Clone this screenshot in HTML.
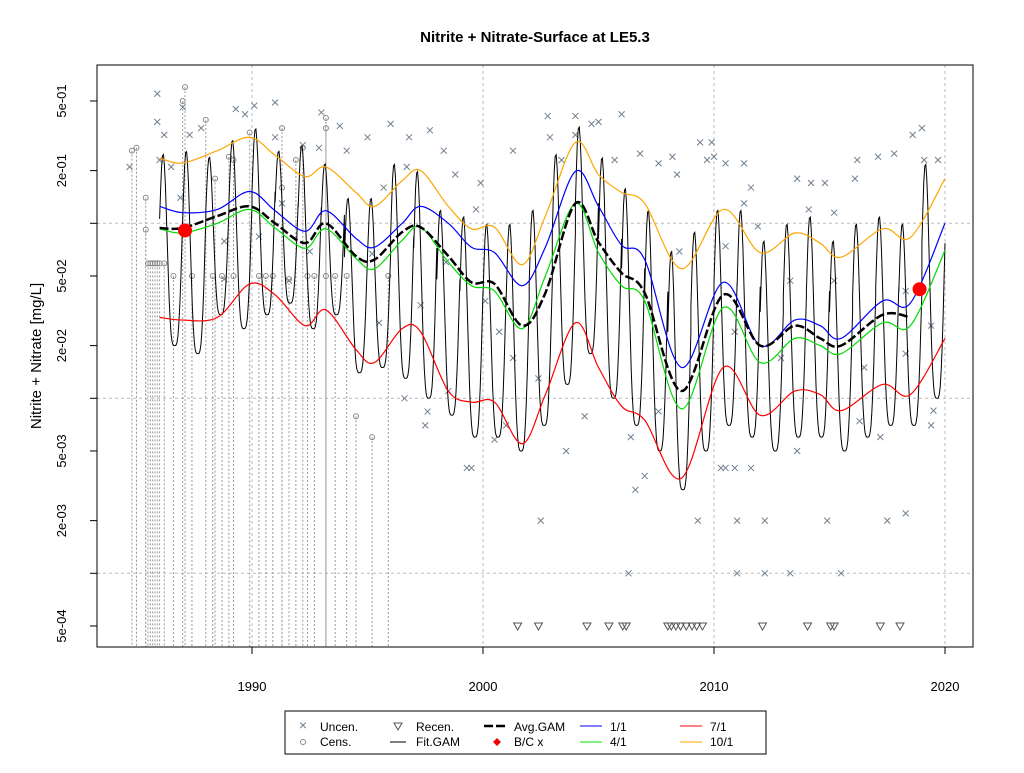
<!DOCTYPE html>
<html><head><meta charset="utf-8"><style>
body{margin:0;background:#fff}
svg text{font-family:"Liberation Sans",Arial,sans-serif}
</style></head><body>
<svg id="chart" xmlns="http://www.w3.org/2000/svg" width="1024" height="768" viewBox="0 0 1024 768">
<rect width="1024" height="768" fill="#fff"/>
<text x="535" y="42" text-anchor="middle" font-size="15" font-weight="bold">Nitrite + Nitrate-Surface at LE5.3</text>
<text transform="translate(41,356) rotate(-90)" text-anchor="middle" font-size="15">Nitrite + Nitrate [mg/L]</text>
<g id="grid"></g>
<g id="cens"></g>
<g id="unc"></g>
<g id="recen"></g>
<g id="lines"></g>
<g id="axes"></g>
<g>
<rect x="285" y="711" width="481" height="43" fill="#fff" stroke="#000"/>
<text x="303" y="730" font-size="14" fill="#708090" text-anchor="middle">×</text><text x="320" y="731" font-size="12">Uncen.</text>
<circle cx="303" cy="742" r="2.5" fill="none" stroke="#888"/><text x="320" y="746" font-size="12">Cens.</text>
<polygon points="394,723 402,723 398,730" fill="none" stroke="#555"/><text x="416" y="731" font-size="12">Recen.</text>
<line x1="390" y1="742" x2="406" y2="742" stroke="#000"/><text x="416" y="746" font-size="12">Fit.GAM</text>
<line x1="484" y1="726" x2="506" y2="726" stroke="#000" stroke-width="2.5" stroke-dasharray="9,3"/><text x="514" y="731" font-size="12">Avg.GAM</text>
<polygon points="497,738 501,742 497,746 493,742" fill="#e00"/><text x="514" y="746" font-size="12">B/C x</text>
<line x1="580" y1="726" x2="602" y2="726" stroke="#00f"/><text x="610" y="731" font-size="12">1/1</text>
<line x1="580" y1="742" x2="602" y2="742" stroke="#0d0"/><text x="610" y="746" font-size="12">4/1</text>
<line x1="680" y1="726" x2="702" y2="726" stroke="#f00"/><text x="710" y="731" font-size="12">7/1</text>
<line x1="680" y1="742" x2="702" y2="742" stroke="#ffa500"/><text x="710" y="746" font-size="12">10/1</text>
</g>
</svg>
<script>
const knotYears=[1986,1987,1988.5,1989.9,1991,1992.3,1993.2,1994.5,1995.3,1996.5,1997.3,1998.5,1999.5,2000.5,2001.7,2002.7,2004,2005,2006,2007,2008.6,2010.4,2012,2013.5,2014.6,2015.5,2017.3,2018.5,2020];
const s10=[0.236,0.221,0.26,0.31,0.245,0.185,0.21,0.15,0.125,0.175,0.2,0.125,0.093,0.095,0.058,0.11,0.29,0.19,0.15,0.13,0.055,0.12,0.068,0.088,0.077,0.064,0.093,0.083,0.18];
const s1=[0.125,0.115,0.12,0.152,0.118,0.09,0.118,0.082,0.073,0.1,0.125,0.1,0.073,0.068,0.044,0.073,0.198,0.125,0.075,0.062,0.015,0.046,0.02,0.028,0.026,0.022,0.036,0.035,0.1];
const s4=[0.093,0.088,0.1,0.12,0.094,0.072,0.093,0.063,0.055,0.08,0.095,0.06,0.044,0.041,0.025,0.05,0.13,0.068,0.044,0.036,0.0087,0.033,0.016,0.022,0.02,0.018,0.027,0.026,0.07];
const s7=[0.029,0.028,0.029,0.045,0.039,0.026,0.032,0.019,0.016,0.025,0.024,0.011,0.0095,0.0095,0.0055,0.0105,0.027,0.015,0.009,0.0075,0.0035,0.015,0.008,0.011,0.0105,0.0085,0.012,0.0105,0.022];
const avgYears=knotYears.slice(0,28);
const avg=[0.094,0.094,0.11,0.125,0.1,0.077,0.1,0.065,0.062,0.089,0.095,0.065,0.046,0.045,0.026,0.04,0.13,0.078,0.052,0.04,0.011,0.039,0.02,0.026,0.022,0.02,0.03,0.029];
const bcYears=[1987.1,2018.9];
const bcVals=[0.091,0.042];
const fitYears=[1986,1987,1988,1989,1990,1991,1992,1993,1994,1995,1996,1997,1998,1999,2000,2001,2002,2003,2004,2005,2006,2007,2008,2009,2010,2011,2012,2013,2014,2015,2016,2017,2018,2019];
const fitPeak=[0.25,0.26,0.24,0.3,0.35,0.26,0.28,0.22,0.14,0.14,0.22,0.2,0.12,0.11,0.1,0.1,0.12,0.25,0.36,0.24,0.16,0.12,0.07,0.09,0.12,0.12,0.08,0.1,0.11,0.08,0.1,0.11,0.1,0.22];
const fitTrough=[0.02,0.018,0.03,0.025,0.03,0.035,0.025,0.03,0.014,0.015,0.013,0.01,0.008,0.006,0.006,0.005,0.007,0.012,0.018,0.01,0.007,0.005,0.003,0.005,0.007,0.006,0.005,0.006,0.006,0.005,0.006,0.007,0.007,0.01];
const uncYears=[1984.7,1985.9,1985.9,1986.2,1986,1986.5,1987,1987.3,1987.8,1989.3,1989.7,1990.1,1991,1991,1992.2,1992.9,1993,1993.8,1994.1,1995,1996,1996.8,1996.7,1995.7,1997.7,1998.3,1998.8,1999.9,1998.4,1997.3,1996.6,1997.6,1997.5,1998.5,1999.3,1999.5,2000.5,2001,2002.5,2002.4,2001.3,2000.1,2000.7,2001.3,2002.8,2004,2004.7,2005,2006,2002.9,2004,2003.4,2005.7,2006.8,2007.6,2008.2,2008.4,2009.7,2010,2009.4,2009.9,2011.3,2011.6,2010.5,2013.6,2014.2,2014.8,2016.2,2016.1,2017.1,2017.8,2018.6,2019,2019.1,2019.7,2011.3,2014.1,2015.2,2008.5,2010.5,2011.9,2013.3,2015.2,2018.3,2019.4,2010.9,2012.9,2016.5,2018.3,2004.4,2006.4,2007,2007.6,2003.6,2006.6,2006.3,2009.3,2010.3,2010.5,2010.9,2011.6,2011,2011,2012.2,2012.2,2013.3,2013.6,2014.9,2015.5,2016.3,2017.5,2017.2,2018.3,2019.4,2019.5,1986.9,1988.8,1990.3,1991.3,1988.8,1991.6,1992.5,1995.2,1995.5,1999.7];
const uncVals=[0.21,0.55,0.38,0.32,0.23,0.21,0.46,0.32,0.35,0.45,0.42,0.47,0.49,0.31,0.28,0.27,0.43,0.36,0.26,0.31,0.37,0.31,0.21,0.16,0.34,0.26,0.19,0.17,0.06,0.034,0.01,0.0084,0.007,0.011,0.004,0.004,0.0058,0.007,0.002,0.013,0.017,0.036,0.024,0.26,0.41,0.41,0.37,0.38,0.42,0.31,0.32,0.23,0.23,0.25,0.22,0.24,0.19,0.23,0.24,0.29,0.29,0.22,0.16,0.22,0.18,0.17,0.17,0.23,0.18,0.24,0.25,0.32,0.35,0.23,0.23,0.13,0.12,0.115,0.069,0.074,0.096,0.047,0.047,0.041,0.026,0.024,0.017,0.015,0.018,0.0079,0.006,0.0036,0.0084,0.005,0.003,0.001,0.002,0.004,0.004,0.004,0.004,0.002,0.001,0.002,0.001,0.001,0.005,0.002,0.001,0.0074,0.002,0.006,0.0022,0.007,0.0085,0.14,0.079,0.084,0.13,0.048,0.047,0.069,0.067,0.027,0.12];
const cenYears=[1984.8,1985,1985.4,1985.4,1985.5,1985.6,1985.7,1985.8,1985.9,1986,1986.2,1987.1,1987,1988,1988.4,1989,1991.3,1991.9,1992.2,1993.2,1993.2,1989.2,1989.9,1991.3,1990.3,1988.3,1989.2,1991.6,1992.4,1993.2,1994.5,1995.2,1986.6,1987.4,1988.7,1990.6,1990.9,1992.7,1993.6,1994.1,1995.9];
const cenVals=[0.26,0.27,0.14,0.092,0.059,0.059,0.059,0.059,0.059,0.059,0.059,0.6,0.5,0.39,0.18,0.24,0.35,0.23,0.27,0.4,0.35,0.23,0.33,0.16,0.05,0.05,0.05,0.048,0.05,0.05,0.0079,0.006,0.05,0.05,0.05,0.05,0.05,0.05,0.05,0.05,0.05];
const recYears=[2001.5,2002.4,2004.5,2005.45,2006.05,2006.2,2008,2008.15,2008.35,2008.55,2008.8,2009.05,2009.25,2009.5,2012.1,2014.05,2015.05,2015.2,2017.2,2018.05];
const recVal=0.0005;
const xTicks=[1990,2000,2010,2020];
const yTickVals=[0.5,0.2,0.1,0.05,0.02,0.01,0.005,0.002,0.001,0.0005];
const yTickLabels=["5e-01","2e-01","","5e-02","2e-02","","5e-03","2e-03","","5e-04"];
const gridY=[0.1,0.01,0.001];

const L=97,R=973,T=65,B=647;
const X=yr=>252+(yr-1990)*23.1;
const Y=v=>223.3-175*Math.log10(v/0.1);
const NS='http://www.w3.org/2000/svg';
function mk(tag,attrs,parent){const e=document.createElementNS(NS,tag);for(const k in attrs)e.setAttribute(k,attrs[k]);parent.appendChild(e);return e;}
const grid=document.getElementById('grid'),axes=document.getElementById('axes');
xTicks.forEach(t=>{const l=mk('line',{x1:X(t),x2:X(t),y1:T,y2:B,stroke:'#bbb','stroke-dasharray':'3,3'},grid);});
gridY.forEach(v=>{const l=mk('line',{x1:L,x2:R,y1:Y(v),y2:Y(v),stroke:'#bbb','stroke-dasharray':'3,3'},grid);});
const fr=mk('rect',{x:L,y:T,width:R-L,height:B-T,fill:'none',stroke:'#000'},axes);

xTicks.forEach(t=>{mk('line',{x1:X(t),x2:X(t),y1:B,y2:B+7,stroke:'#000'},axes);const tx=mk('text',{x:X(t),y:691,'text-anchor':'middle','font-size':'13'},axes);tx.textContent=t;});
yTickVals.forEach((v,i)=>{mk('line',{x1:L-7,x2:L,y1:Y(v),y2:Y(v),stroke:'#000'},axes);if(yTickLabels[i]){const tx=mk('text',{transform:`translate(${L-31},${Y(v)}) rotate(-90)`,'text-anchor':'middle','font-size':'13'},axes);tx.textContent=yTickLabels[i];}});
const cg=document.getElementById('cens');
cenYears.forEach((yr,i)=>{const x=X(yr),y=Y(cenVals[i]);
const l=mk('line',{x1:x,x2:x,y1:y,y2:B,stroke:'#999','stroke-dasharray':'2,2'},cg);
const c=mk('circle',{cx:x,cy:y,r:2.5,fill:'none',stroke:'#888'},cg);});
const ug=document.getElementById('unc');
uncYears.forEach((yr,i)=>{const x=X(yr),y=Y(uncVals[i]);const p=mk('path',{d:`M${x-3},${y-3}L${x+3},${y+3}M${x-3},${y+3}L${x+3},${y-3}`,stroke:'#708090','stroke-width':'1'},ug);});
const rg=document.getElementById('recen');
recYears.forEach(yr=>{const x=X(yr),y=Y(recVal);const p=mk('polygon',{points:`${x-4},${y-3} ${x+4},${y-3} ${x},${y+4}`,fill:'none',stroke:'#555'},rg);});
function smooth(xs,vs){const P=xs.map((x,i)=>[X(x),Y(vs[i])]);let d=`M${P[0][0]},${P[0][1]}`;
for(let i=0;i<P.length-1;i++){const p0=P[i-1]||P[i],p1=P[i],p2=P[i+1],p3=P[i+2]||p2;
d+=`C${p1[0]+(p2[0]-p0[0])/6},${p1[1]+(p2[1]-p0[1])/6} ${p2[0]-(p3[0]-p1[0])/6},${p2[1]-(p3[1]-p1[1])/6} ${p2[0]},${p2[1]}`;}return d;}
const lg=document.getElementById('lines');
let fd='';fitYears.forEach((yr,i)=>{for(let k=0;k<=24;k++){const f=k/24;const t=yr+f;let w=(1+Math.cos(2*Math.PI*(f-0.15)))/2;w=Math.pow(w,1.8);
const lp=Math.log10(fitPeak[i]),lt=Math.log10(fitTrough[i]);const v=Math.pow(10,lt+(lp-lt)*w);fd+=(fd?'L':'M')+X(t).toFixed(1)+','+Y(v).toFixed(1);}});
const fp=mk('path',{d:fd,fill:'none',stroke:'#000','stroke-width':'1'},lg);
[[s7,'#f00','line-7-1'],[s4,'#0d0','line-4-1'],[s1,'#00f','line-1-1'],[s10,'#ffa500','line-10-1']].forEach(([s,c,n])=>{const p=mk('path',{d:smooth(knotYears,s),fill:'none',stroke:c,'stroke-width':'1.2'},lg);});
const ap=mk('path',{d:smooth(avgYears,avg),fill:'none',stroke:'#000','stroke-width':'2.5','stroke-dasharray':'9,3'},lg);
bcYears.forEach((yr,i)=>{const c=mk('circle',{cx:X(yr),cy:Y(bcVals[i]),r:7,fill:'#f00'},lg);});
</script>
</body></html>
